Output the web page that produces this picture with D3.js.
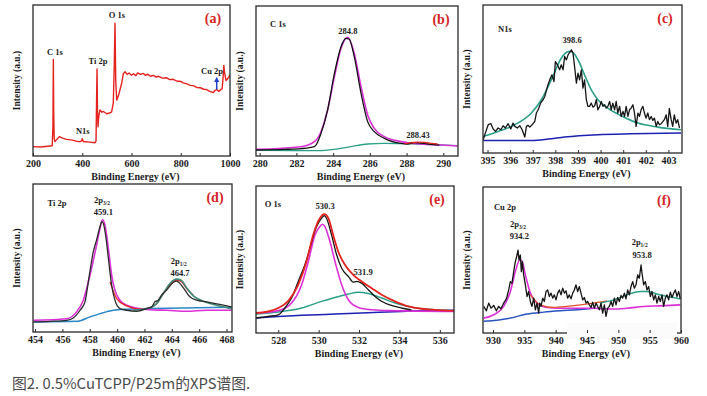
<!DOCTYPE html>
<html>
<head>
<meta charset="utf-8">
<script src="https://cdn.jsdelivr.net/npm/d3@7"></script>
<style>
  body { margin: 0; background: #fff; }
  svg text.chart { font-family: "Liberation Serif", "DejaVu Serif", serif; font-weight: bold; }
  svg .tick text { font-family: "Liberation Serif", "DejaVu Serif", serif; font-weight: bold; }
</style>
</head>
<body>
<script>
// ---------- data (binding energy eV, intensity a.u.) ----------
var surveyRaw = [[200,6.2],[230,6.0],[260,6.5],[278,6.8],[281,20],[282.6,64],[284,30],[286,12],[289,9.5],[300,11.5],[307,12.8],[320,11.8],[337,11],[360,10.5],[375,9.8],[391,9.5],[397,10],[400,11.5],[404,9.6],[430,9.2],[452,8.8],[456,10],[458,35],[460,57.6],[462,30],[464,19.4],[467,26],[472,30.5],[480,29],[486,29.5],[499,28],[510,28.5],[519,29],[526,35],[530,60],[533,88],[536,50],[540,37],[547,40],[553,43.7],[560,48],[567,54.7],[574,55.8],[582,54],[590,55],[600,53.5],[608,54.5],[618,53.2],[625,55],[636,54],[648,54.7],[657,53.4],[665,54.2],[677,52.8],[689,53.4],[700,52.2],[710,52.8],[725,51.6],[743,51.8],[755,50.6],[770,50.8],[785,49.5],[797,49.6],[810,48.4],[825,47.8],[838,46.8],[851,46.6],[865,45.4],[880,45.2],[893,44.2],[905,44],[918,42.8],[932,42],[940,43.5],[946,44],[955,42.8],[962,43.9],[968,44.5],[972,52],[975,60],[978,55],[984,50],[992,51.5],[1000,53.6]];

var c1sData = [[279.76,4.0],[281.34,4.4],[282.25,4.9],[282.98,6.2],[283.34,15.1],[283.70,30.7],[284.07,55.1],[284.43,72.9],[284.70,78.4],[284.88,77.8],[285.15,66.2],[285.52,41.8],[285.88,22.9],[286.24,16.2],[286.79,11.8],[287.70,8.4],[288.06,8.0],[288.42,8.9],[289.15,8.0],[289.78,7.3]];
var c1sPeak2 = [[287.88,8.0],[288.24,8.9],[288.60,9.3],[288.97,9.1],[289.33,8.4],[289.69,8.0]];
var c1sFit = [[279.76,4.4],[282.25,6.2],[282.98,9.6],[283.34,16.2],[283.70,30.7],[284.07,52.9],[284.43,71.8],[284.79,79.1],[285.15,68.4],[285.52,46.2],[285.88,27.3],[286.24,18.4],[286.79,12.9],[287.70,9.6],[288.78,8.0],[289.87,7.3],[290.78,6.7]];
var c1sBase = [[279.76,4.0],[283.16,3.6],[284.07,4.4],[284.97,6.2],[285.88,8.0],[286.79,8.4],[290.78,6.9]];

var n1sData = [[394.81,9.0],[394.88,12.4],[395.03,19.1],[395.15,19.8],[395.25,16.2],[395.35,14.6],[395.47,16.9],[395.59,15.7],[395.69,18.4],[395.79,16.9],[395.91,19.8],[396.03,16.2],[396.13,20.2],[396.21,18.0],[396.32,16.9],[396.43,18.4],[396.53,15.7],[396.65,10.8],[396.72,18.0],[396.79,18.7],[396.87,17.5],[397.01,19.8],[397.09,21.3],[397.16,27.0],[397.24,29.2],[397.35,33.7],[397.46,36.0],[397.53,38.2],[397.65,44.9],[397.75,49.4],[397.85,52.8],[397.94,48.3],[398.0,61.8],[398.09,59.6],[398.19,56.2],[398.26,59.6],[398.34,56.2],[398.41,65.2],[398.49,62.9],[398.56,66.3],[398.63,67.9],[398.71,69.7],[398.78,67.4],[398.85,58.4],[398.93,47.2],[399.0,53.9],[399.07,49.4],[399.15,56.2],[399.22,43.8],[399.29,49.4],[399.37,36.0],[399.44,31.5],[399.51,31.5],[399.59,33.7],[399.66,31.0],[399.74,31.9],[399.81,36.0],[399.88,29.2],[399.96,31.5],[400.03,34.8],[400.10,31.5],[400.18,32.6],[400.25,30.3],[400.32,31.5],[400.40,34.8],[400.47,29.2],[400.54,33.7],[400.62,29.2],[400.69,34.8],[400.76,27.0],[400.84,31.5],[400.91,24.7],[400.99,28.1],[401.06,24.7],[401.13,31.5],[401.21,24.7],[401.28,29.2],[401.35,30.3],[401.43,32.6],[401.50,27.0],[401.57,18.0],[401.65,27.0],[401.72,24.7],[401.79,29.2],[401.87,31.5],[401.94,27.0],[402.01,23.6],[402.09,27.0],[402.16,22.5],[402.24,24.7],[402.31,22.0],[402.38,23.6],[402.46,18.0],[402.53,21.3],[402.60,19.1],[402.68,19.8],[402.82,22.5],[402.90,25.8],[402.97,18.0],[403.04,30.1],[403.12,22.5],[403.19,18.0],[403.26,25.8],[403.34,20.2],[403.41,22.5],[403.49,16.9]];
var n1sFit = [[394.81,11.2],[395.47,14.6],[396.21,19.1],[396.94,27.0],[397.38,36.0],[397.82,49.4],[398.26,64.0],[398.56,68.5],[398.71,68.5],[399.0,63.0],[399.29,52.8],[399.59,42.7],[399.88,36.0],[400.32,30.3],[400.91,25.2],[401.65,20.2],[402.53,17.5],[403.56,15.7]];
var n1sBase = [[394.81,8.5],[396.94,8.5],[397.68,9.4],[398.41,10.8],[399.88,12.4],[401.35,13.0],[403.56,13.5]];

var ti2pData = [[453.88,6.8],[455.10,7.2],[456.31,7.9],[456.80,9.5],[457.29,14.7],[457.65,20.4],[457.97,38.5],[458.26,54.3],[458.50,62.2],[458.75,71.3],[458.87,74.7],[458.99,73.5],[459.19,63.3],[459.36,49.8],[459.60,31.7],[459.84,21.5],[460.21,15.8],[460.70,14.7],[461.43,14.0],[462.16,15.8],[462.52,17.0],[462.77,20.4],[463.01,21.5],[463.25,24.9],[463.62,28.3],[464.10,33.5],[464.35,34.4],[464.59,32.8],[464.96,28.3],[465.32,23.8],[465.81,21.5],[466.54,20.4],[467.51,18.6],[468.37,17.0]];
var ti2pFit1 = [[453.88,7.9],[456.31,9.0],[457.04,13.6],[457.53,21.5],[458.02,38.5],[458.50,58.8],[458.75,70.1],[458.94,75.8],[459.11,72.4],[459.36,56.6],[459.60,38.5],[459.84,28.3],[460.21,21.5],[460.70,18.1],[461.67,15.8],[462.64,14.9],[463.62,14.7],[465.08,14.0],[466.54,14.7],[468.37,14.7]];
var ti2pSum = [[459.48,33.9],[459.97,22.6],[460.70,17.6],[461.67,15.4],[462.40,16.3],[462.89,19.2],[463.37,26.0],[463.86,31.7],[464.35,35.1],[464.71,33.9],[465.08,29.4],[465.57,24.9]];
var ti2pFit2 = [[461.18,14.7],[462.16,15.8],[462.89,19.2],[463.37,26.0],[463.86,32.8],[464.35,35.7],[464.71,34.8],[465.08,29.9],[465.57,24.4],[466.30,20.8],[467.27,18.1],[468.37,15.8]];
var ti2pBase = [[453.88,6.8],[457.04,7.2],[458.02,10.2],[458.75,12.4],[459.72,14.7],[460.70,15.4],[462.40,15.8],[464.84,16.3],[468.37,16.7]];

var o1sData = [[526.89,10.2],[527.50,11.3],[528.00,12.4],[528.33,17.0],[528.66,23.8],[528.99,35.1],[529.32,46.4],[529.57,57.7],[529.73,65.6],[529.90,72.4],[530.15,78.1],[530.28,79.9],[530.39,78.1],[530.64,66.7],[530.89,53.2],[531.14,44.1],[531.47,38.5],[531.71,34.6],[531.88,35.1],[532.13,33.9],[532.46,29.4],[532.79,24.9],[533.28,20.4],[533.78,18.1],[534.27,16.5],[534.60,15.8]];
var o1sSum = [[526.89,13.6],[527.50,14.7],[528.00,17.0],[528.50,21.9],[528.99,32.8],[529.40,48.6],[529.73,66.7],[530.06,78.1],[530.28,80.8],[530.48,78.1],[530.72,66.7],[530.97,55.4],[531.30,46.4],[531.71,39.6],[532.13,35.1],[532.62,30.5],[533.12,26.0],[533.78,21.5],[534.44,18.1],[535.10,16.5],[535.76,15.8],[536.71,15.2]];
var o1sFit1 = [[526.89,13.6],[528.00,15.2],[528.66,20.4],[529.16,32.8],[529.49,48.6],[529.82,66.7],[530.06,72.4],[530.18,74.0],[530.31,72.4],[530.56,62.2],[530.81,48.6],[531.14,32.8],[531.47,22.6],[531.96,17.4],[532.62,15.8],[533.45,15.2],[536.71,14.7]];
var o1sFit2 = [[526.89,12.9],[528.00,14.3],[529.16,17.0],[530.15,21.5],[530.81,24.2],[531.47,26.5],[531.96,27.8],[532.46,26.9],[533.12,23.8],[533.78,20.4],[534.44,18.1],[535.10,16.5],[536.71,15.2]];
var o1sBase = [[526.89,10.2],[529.16,12.0],[530.81,12.9],[532.46,13.8],[534.11,14.7],[536.71,15.4]];

var cu2pData = [[928.51,18.2],[928.94,15.2],[929.31,20.5],[929.68,17.0],[930.11,18.9],[930.53,15.2],[930.90,18.2],[931.28,16.6],[931.70,20.5],[932.13,23.4],[932.50,29.5],[932.77,35.2],[933.03,34.1],[933.30,42.0],[933.56,48.9],[933.83,53.4],[933.99,56.8],[934.15,50.0],[934.36,53.4],[934.52,42.0],[934.68,48.9],[934.89,39.8],[935.16,33.0],[935.43,25.0],[935.69,28.4],[935.96,21.6],[936.22,18.2],[936.49,23.9],[936.76,15.9],[937.02,20.5],[937.29,13.6],[937.45,20.5],[937.66,18.2],[937.93,23.9],[938.19,21.6],[938.46,28.4],[938.72,29.5],[938.99,25.0],[939.26,27.3],[939.52,23.9],[939.79,26.1],[940.05,22.7],[940.32,27.3],[940.59,29.5],[940.85,26.1],[941.12,30.7],[941.38,27.3],[941.65,28.9],[941.91,23.9],[942.18,26.1],[942.45,23.4],[942.71,27.3],[942.98,29.5],[943.24,33.0],[943.51,28.4],[943.78,31.8],[944.04,27.3],[944.31,22.7],[944.57,24.3],[944.84,20.5],[945.11,21.6],[945.37,19.3],[945.64,17.5],[945.90,21.1],[946.17,17.0],[946.44,20.5],[946.70,18.2],[946.97,15.9],[947.23,20.5],[947.50,13.6],[947.77,19.3],[948.03,11.4],[948.30,17.0],[948.56,18.2],[948.83,21.6],[949.10,18.2],[949.36,23.9],[949.63,19.3],[949.89,24.3],[950.16,21.6],[950.43,25.7],[950.69,23.9],[950.96,27.3],[951.22,23.4],[951.49,29.5],[951.76,26.1],[952.02,31.8],[952.29,35.2],[952.55,30.7],[952.82,33.0],[953.09,39.8],[953.35,37.5],[953.62,46.6],[953.78,40.9],[954.04,33.0],[954.31,35.2],[954.57,29.5],[954.84,31.8],[955.11,25.0],[955.37,28.4],[955.64,22.7],[955.90,26.1],[956.17,20.5],[956.44,25.0],[956.70,21.6],[956.97,26.1],[957.23,18.2],[957.50,23.9],[957.77,26.1],[958.03,22.7],[958.30,28.0],[958.56,24.3],[958.83,27.3],[959.10,29.5],[959.36,25.0],[959.63,28.4],[959.89,23.4]];
var cu2pFit1 = [[928.51,10.2],[930.11,12.5],[931.70,18.2],[932.77,28.4],[933.56,42.0],[934.26,50.0],[934.63,49.3],[935.16,39.8],[935.96,27.3],[937.02,20.5],[938.62,17.5],[940.74,17.0],[946.06,17.0],[948.72,16.4],[951.38,17.0],[954.04,18.2],[956.70,18.6],[959.89,19.3]];
var cu2pSum = [[935.96,26.1],[937.55,19.3],[939.68,17.5],[941.81,18.2],[943.94,19.3],[946.06,20.5],[948.19,22.0]];
var cu2pFit2 = [[947.13,20.5],[949.26,22.7],[951.38,26.1],[953.51,28.4],[954.57,28.4],[956.70,26.1],[958.83,24.3],[959.89,23.4]];
var cu2pBase = [[928.51,8.0],[932.77,10.2],[935.43,13.0],[938.09,14.3],[940.74,15.2],[943.40,15.9],[946.06,17.0]];

// tick values per panel
var ticksA = [200, 400, 600, 800, 1000];
var ticksB = [280, 282, 284, 286, 288, 290];
var ticksC = [395, 396, 397, 398, 399, 400, 401, 402, 403];
var ticksD = [454, 456, 458, 460, 462, 464, 466, 468];
var ticksE = [528, 530, 532, 534, 536];
var ticksF = [930, 935, 940, 945, 950, 955, 960];

// colours
var RED = "#e4221e", BLACK = "#151515", MAG = "#dc2fd8", TEAL = "#2b9f88", BLUE = "#1c22b0";

var svg = d3.select("body").append("svg")
  .attr("width", 707).attr("height", 396);

function drawPanel(p) {
  var x = d3.scaleLinear().domain(p.domain).range([p.x0, p.x1]);
  var y = d3.scaleLinear().domain([0, 100]).range([p.y1, p.y0]);
  var g = svg.append("g");

  // clip to frame
  var cid = "clip-" + p.id;
  svg.append("clipPath").attr("id", cid).append("rect")
    .attr("x", p.x0).attr("y", p.y0).attr("width", p.x1 - p.x0).attr("height", p.y1 - p.y0);

  var plot = g.append("g").attr("clip-path", "url(#" + cid + ")");
  p.series.forEach(function(s) {
    var line = d3.line()
      .x(function(d) { return x(d[0]); })
      .y(function(d) { return y(d[1]); })
      .curve(s.smooth ? d3.curveMonotoneX : d3.curveLinear);
    plot.append("path").datum(s.data)
      .attr("d", line)
      .attr("fill", "none")
      .attr("stroke", s.color)
      .attr("stroke-width", s.width || 1.3)
      .attr("stroke-linejoin", "round");
  });

  // frame
  g.append("rect")
    .attr("x", p.x0).attr("y", p.y0)
    .attr("width", p.x1 - p.x0).attr("height", p.y1 - p.y0)
    .attr("fill", "none").attr("stroke", "#2a2a2a").attr("stroke-width", 1.3);

  if (p.patch) {
    g.append("rect").attr("x", p.patch[0]).attr("y", p.patch[1])
      .attr("width", p.patch[2]).attr("height", p.patch[3]).attr("fill", "#fbfbfb");
  }

  // bottom axis, ticks inward
  var axis = d3.axisBottom(x).tickValues(p.ticks).tickSizeInner(-3).tickSizeOuter(0).tickPadding(4)
    .tickFormat(d3.format("d"));
  var ax = g.append("g").attr("transform", "translate(0," + p.y1 + ")").call(axis);
  ax.select(".domain").remove();
  ax.selectAll("line").attr("stroke", "#2a2a2a");
  ax.selectAll("text").attr("font-size", 10).attr("fill", "#1a1a1a");

  // axis titles
  g.append("text").attr("class", "chart")
    .attr("x", (p.x0 + p.x1) / 2 + 4).attr("y", p.y1 + 24)
    .attr("text-anchor", "middle").attr("font-size", 10).attr("fill", "#1a1a1a")
    .text("Binding Energy (eV)");
  g.append("text").attr("class", "chart")
    .attr("transform", "translate(" + (p.x0 - 13) + "," + ((p.y0 + p.y1) / 2) + ") rotate(-90)")
    .attr("text-anchor", "middle").attr("font-size", 9.5).attr("fill", "#1a1a1a")
    .text("Intensity (a.u.)");

  // panel letter
  g.append("text").attr("class", "chart")
    .attr("x", p.x1 - 17).attr("y", p.y0 + 18)
    .attr("text-anchor", "middle").attr("font-size", 14).attr("fill", "#d42424")
    .text(p.letter);

  // annotations (energy, intensity, text, optional subscript)
  p.notes.forEach(function(n) {
    var t = g.append("text").attr("class", "chart")
      .attr("x", x(n[0])).attr("y", y(n[1]))
      .attr("text-anchor", "middle").attr("font-size", 8.5).attr("fill", "#1a1a1a")
      .text(n[2]);
    if (n[3]) {
      t.append("tspan").attr("font-size", 5.5).attr("dy", 2).text(n[3]);
    }
  });

  if (p.extra) p.extra(g, x, y);
}

drawPanel({
  id: "a", letter: "(a)", domain: [200, 1000], ticks: ticksA,
  x0: 33, x1: 230, y0: 5, y1: 156,
  series: [{ data: surveyRaw, color: RED, width: 1.4 }],
  notes: [[289, 67, "C 1s"], [402, 14.5, "N1s"], [464, 61, "Ti 2p"], [541, 91.5, "O 1s"], [927, 54, "Cu 2p"]],
  extra: function(g, x, y) {
    g.append("line").attr("x1", x(946)).attr("x2", x(946)).attr("y1", y(44)).attr("y2", y(51))
      .attr("stroke", "#1f3fd0").attr("stroke-width", 1.5);
    g.append("path")
      .attr("d", "M" + (x(946) - 2.5) + "," + y(49) + " L" + x(946) + "," + y(52.5) + " L" + (x(946) + 2.5) + "," + y(49) + " Z")
      .attr("fill", "#1f3fd0");
  }
});

drawPanel({
  id: "b", letter: "(b)", domain: [279.8, 290.8], ticks: ticksB,
  x0: 256, x1: 458, y0: 6, y1: 156,
  series: [
    { data: c1sBase, color: TEAL, smooth: true },
    { data: c1sFit, color: MAG, smooth: true, width: 1.6 },
    { data: c1sData, color: BLACK, smooth: true },
    { data: c1sPeak2, color: RED, smooth: true }
  ],
  notes: [[281.0, 86, "C 1s"], [284.8, 81.5, "284.8"], [288.62, 11.8, "288.43"]]
});

drawPanel({
  id: "c", letter: "(c)", domain: [394.8, 403.6], ticks: ticksC,
  x0: 483, x1: 682, y0: 5, y1: 153,
  series: [
    { data: n1sBase, color: BLUE, smooth: true, width: 1.5 },
    { data: n1sFit, color: TEAL, smooth: true, width: 1.6 },
    { data: n1sData, color: BLACK, width: 1.3 }
  ],
  notes: [[395.77, 82, "N1s"], [398.74, 74.5, "398.6"]]
});

drawPanel({
  id: "d", letter: "(d)", domain: [453.85, 468.4], ticks: ticksD,
  x0: 33, x1: 232, y0: 184, y1: 332,
  series: [
    { data: ti2pBase, color: "#2a86c4", smooth: true, width: 1.5 },
    { data: ti2pFit1, color: MAG, smooth: true, width: 1.6 },
    { data: ti2pSum, color: RED, smooth: true },
    { data: ti2pFit2, color: "#3f8a78", smooth: true, width: 1.6 },
    { data: ti2pData, color: "#2b2b2b", smooth: true }
  ],
  notes: [[455.6, 85, "Ti 2p"], [458.9, 87, "2p", "3/2"], [459.0, 79, "459.1"], [464.5, 46, "2p", "1/2"], [464.6, 38, "464.7"]]
});

drawPanel({
  id: "e", letter: "(e)", domain: [526.9, 536.7], ticks: ticksE,
  x0: 256, x1: 454, y0: 186, y1: 333,
  series: [
    { data: o1sBase, color: BLUE, smooth: true, width: 1.5 },
    { data: o1sFit2, color: TEAL, smooth: true, width: 1.5 },
    { data: o1sFit1, color: MAG, smooth: true, width: 1.6 },
    { data: o1sData, color: BLACK, smooth: true },
    { data: o1sSum, color: RED, smooth: true, width: 1.8 }
  ],
  notes: [[527.74, 85.5, "O 1s"], [530.32, 84.5, "530.3"], [532.2, 39.5, "531.9"]]
});

drawPanel({
  id: "f", letter: "(f)", domain: [928.4, 960], ticks: ticksF,
  x0: 483, x1: 681, y0: 187, y1: 333,
  patch: [567, 323, 110, 16],
  series: [
    { data: cu2pBase, color: "#2a52c0", smooth: true, width: 1.5 },
    { data: cu2pFit1, color: MAG, smooth: true, width: 1.6 },
    { data: cu2pSum, color: "#e0502a", smooth: true },
    { data: cu2pFit2, color: TEAL, smooth: true, width: 1.5 },
    { data: cu2pData, color: BLACK, width: 1.3 }
  ],
  notes: [[931.9, 84, "Cu 2p"], [934.0, 72.5, "2p", "3/2"], [934.2, 64.5, "934.2"], [953.4, 60, "2p", "1/2"], [953.8, 51.5, "953.8"]]
});

// caption
svg.append("text")
  .attr("x", 12).attr("y", 389)
  .style("font-family", "'Noto Sans CJK SC', 'Noto Sans', sans-serif")
  .style("font-weight", "normal").style("font-size", "14.8px").style("fill", "#4a4a4a")
  .text("图2. 0.5%CuTCPP/P25m的XPS谱图.");
</script>
</body>
</html>
